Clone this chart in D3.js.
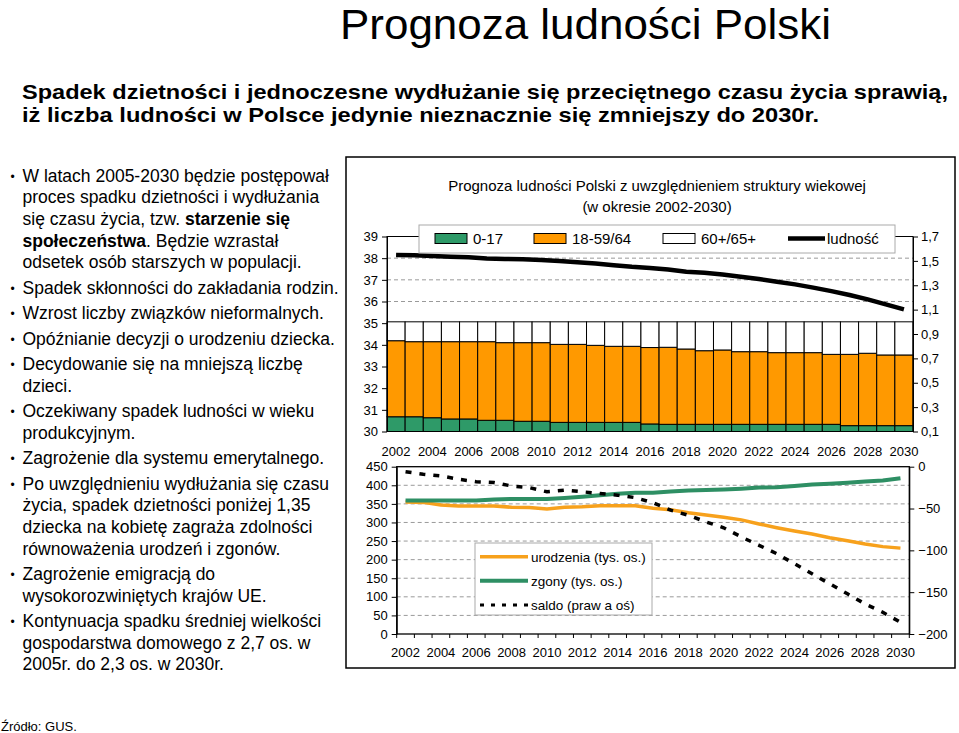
<!DOCTYPE html>
<html><head><meta charset="utf-8">
<script src="https://cdn.jsdelivr.net/npm/d3@7"></script>
<style>
html,body{margin:0;padding:0;background:#fff;}
svg{display:block;font-family:"Liberation Sans",Arial,sans-serif;}
</style></head>
<body><svg id="c" width="959" height="733"></svg>
<script>
// ---------- DATA ----------
const years = [2002,2003,2004,2005,2006,2007,2008,2009,2010,2011,2012,2013,2014,2015,2016,
               2017,2018,2019,2020,2021,2022,2023,2024,2025,2026,2027,2028,2029,2030];
// shares of age groups (stacked bars, right axis)
const share0_17  = [0.221,0.221,0.213,0.203,0.203,0.192,0.192,0.184,0.184,0.175,0.175,0.175,0.175,0.175,0.162,
                    0.159,0.159,0.159,0.159,0.159,0.159,0.159,0.159,0.159,0.159,0.148,0.148,0.148,0.148];
const share18_59 = [0.624,0.616,0.624,0.634,0.634,0.645,0.637,0.645,0.645,0.640,0.640,0.632,0.624,0.624,0.627,
                    0.632,0.618,0.604,0.610,0.596,0.596,0.588,0.588,0.588,0.574,0.585,0.594,0.580,0.580];
const share60    = [0.155,0.163,0.163,0.163,0.163,0.163,0.171,0.171,0.171,0.185,0.185,0.193,0.201,0.201,0.211,
                    0.209,0.223,0.237,0.231,0.245,0.245,0.253,0.253,0.253,0.267,0.267,0.258,0.272,0.272];
// population (mln, left axis)
const ludnosc = [38.15,38.13,38.10,38.07,38.04,37.99,37.96,37.95,37.92,37.87,37.81,37.75,37.67,37.60,37.55,
                 37.48,37.37,37.33,37.25,37.14,37.04,36.91,36.79,36.64,36.48,36.30,36.10,35.87,35.64];
// births, deaths (thousands, left axis), balance (right axis)
const urodzenia = [355,354,347,344,344,344,341,340,336,341,342,345,345,345,338,
                   334,326,320,314,307,296,286,277,269,259,251,242,235,231];
const zgony     = [359,359,359,359,359,362,363,363,363,366,369,373,377,380,380,
                   383,386,387,389,391,394,395,398,402,404,407,410,413,419];
const saldo     = [-6,-9,-11,-15,-18,-19,-23,-25,-30,-28,-30,-32,-34,-37,-43,
                   -52,-58,-66,-73,-84,-94,-104,-116,-128,-140,-152,-164,-174,-186];
const topLeftTicks  = [30,31,32,33,34,35,36,37,38,39];
const topRightTicks = [0.1,0.3,0.5,0.7,0.9,1.1,1.3,1.5,1.7];
const botLeftTicks  = [0,50,100,150,200,250,300,350,400,450];
const botRightTicks = [0,-50,-100,-150,-200];
const xLabelYears   = [2002,2004,2006,2008,2010,2012,2014,2016,2018,2020,2022,2024,2026,2028,2030];
const barKeys   = ["0-17","18-59/64","60+/65+"];
const barColors = ["#2E9A68","#FF9900","#FFFFFF"];
const lineNames = ["urodzenia (tys. os.)","zgony (tys. os.)","saldo (praw a oś)"];

const bullets = [
  [[["W latach 2005-2030 będzie postępował",0]],[["proces spadku dzietności i wydłużania",0]],
   [["się czasu życia, tzw. ",0],["starzenie się",1]],[["społeczeństwa",1],[". Będzie wzrastał",0]],
   [["odsetek osób starszych w populacji.",0]]],
  [[["Spadek skłonności do zakładania rodzin.",0]]],
  [[["Wzrost liczby związków nieformalnych.",0]]],
  [[["Opóźnianie decyzji o urodzeniu dziecka.",0]]],
  [[["Decydowanie się na mniejszą liczbę",0]],[["dzieci.",0]]],
  [[["Oczekiwany spadek ludności w wieku",0]],[["produkcyjnym.",0]]],
  [[["Zagrożenie dla systemu emerytalnego.",0]]],
  [[["Po uwzględnieniu wydłużania się czasu",0]],[["życia, spadek dzietności poniżej 1,35",0]],
   [["dziecka na kobietę zagraża zdolności",0]],[["równoważenia urodzeń i zgonów.",0]]],
  [[["Zagrożenie emigracją do",0]],[["wysokorozwiniętych krajów UE.",0]]],
  [[["Kontynuacja spadku średniej wielkości",0]],[["gospodarstwa domowego z 2,7 os. w",0]],
   [["2005r. do 2,3 os. w 2030r.",0]]]
];

// ---------- DRAW ----------
const svg = d3.select("#c");
svg.append("rect").attr("width",959).attr("height",733).attr("fill","#fff");

// headings
svg.append("text").attr("x",340).attr("y",39).attr("font-size",43)
   .attr("textLength",491).attr("lengthAdjust","spacingAndGlyphs")
   .text("Prognoza ludności Polski");
svg.append("text").attr("x",22).attr("y",98.5).attr("font-size",20.5).attr("font-weight","bold")
   .attr("textLength",926).attr("lengthAdjust","spacingAndGlyphs")
   .text("Spadek dzietności i jednoczesne wydłużanie się przeciętnego czasu życia sprawią,");
svg.append("text").attr("x",22).attr("y",121.5).attr("font-size",20.5).attr("font-weight","bold")
   .attr("textLength",797).attr("lengthAdjust","spacingAndGlyphs")
   .text("iż liczba ludności w Polsce jedynie nieznacznie się zmniejszy do 2030r.");

// bullets
const bg = svg.append("g").attr("font-size",17.5).attr("fill","#000");
let li = 0;
bullets.forEach((para,pi)=>{
  para.forEach((line,k)=>{
    const y = 181.7 + li*21.6 + pi*3.9;
    if(k===0) bg.append("text").attr("x",10.5).attr("y",y-1).attr("font-size",12).text("•");
    const t = bg.append("text").attr("x",22.5).attr("y",y);
    line.forEach(seg=>t.append("tspan").attr("font-weight",seg[1]?"bold":"normal").text(seg[0]));
    li++;
  });
});

svg.append("text").attr("x",1).attr("y",731).attr("font-size",13).text("Źródło: GUS.");

// outer frame
svg.append("rect").attr("x",346).attr("y",157).attr("width",609).attr("height",511)
   .attr("fill","none").attr("stroke","#000").attr("stroke-width",1.5);

// ===== TOP CHART =====
const T = {l:387,r:913,t:236.5,b:431.5};
const xT = d3.scaleBand().domain(years).range([T.l,T.r]).padding(0);
const yTL = d3.scaleLinear().domain([30,39]).range([T.b,T.t]);
const yTR = d3.scaleLinear().domain([0.1,1.7]).range([T.b,T.t]).clamp(true);
const topG = svg.append("g");

topG.append("text").attr("x",657).attr("y",191).attr("text-anchor","middle").attr("font-size",15)
   .text("Prognoza ludności Polski z uwzględnieniem struktury wiekowej");
topG.append("text").attr("x",657).attr("y",212).attr("text-anchor","middle").attr("font-size",15)
   .text("(w okresie 2002-2030)");

topG.selectAll(".gt").data(topLeftTicks.slice(1,-1)).join("line")
   .attr("x1",T.l).attr("x2",T.r).attr("y1",d=>yTL(d)).attr("y2",d=>yTL(d))
   .attr("stroke","#9a9a9a").attr("stroke-dasharray","4,3");

const rows = years.map((y,i)=>({year:y,"0-17":share0_17[i],"18-59/64":share18_59[i],"60+/65+":share60[i]}));
const stacked = d3.stack().keys(barKeys)(rows);
topG.selectAll(".ser").data(stacked).join("g").attr("fill",(d,i)=>barColors[i])
   .selectAll("rect").data(d=>d).join("rect")
   .attr("x",d=>xT(d.data.year)).attr("width",xT.bandwidth())
   .attr("y",d=>yTR(d[1])).attr("height",d=>yTR(d[0])-yTR(d[1]))
   .attr("stroke","#000").attr("stroke-width",1);

topG.append("rect").attr("x",T.l).attr("y",T.t).attr("width",T.r-T.l).attr("height",T.b-T.t)
   .attr("fill","none").attr("stroke","#000").attr("stroke-width",1);

const axL = topG.append("g").attr("transform",`translate(${T.l},0)`)
   .call(d3.axisLeft(yTL).tickValues(topLeftTicks).tickSize(5).tickSizeOuter(0).tickPadding(4).tickFormat(d3.format("d")));
const axR = topG.append("g").attr("transform",`translate(${T.r},0)`)
   .call(d3.axisRight(yTR).tickValues(topRightTicks).tickSize(5).tickSizeOuter(0).tickPadding(3)
   .tickFormat(d=>d.toFixed(1).replace(".",",")));
[axL,axR].forEach(a=>{a.selectAll("text").attr("font-size",13).attr("fill","#000");
  a.attr("font-family",null); a.selectAll("line,path").attr("stroke","#000");});

topG.selectAll(".xl").data(xLabelYears).join("text")
   .attr("x",d=>xT(d)+xT.bandwidth()/2).attr("y",455.5).attr("text-anchor","middle")
   .attr("font-size",13).text(d=>d);

topG.append("path").datum(ludnosc)
   .attr("d",d3.line().x((d,i)=>xT(years[i])+xT.bandwidth()/2).y(d=>yTL(d)))
   .attr("fill","none").attr("stroke","#000").attr("stroke-width",4.5);

// legend
const lg = topG.append("g");
lg.append("rect").attr("x",419).attr("y",225).attr("width",476).attr("height",28)
  .attr("fill","#fff").attr("stroke","#aaa");
const swX = [435,534,663];
barKeys.forEach((k,i)=>{
  lg.append("rect").attr("x",swX[i]).attr("y",233.5).attr("width",32).attr("height",10)
    .attr("fill",barColors[i]).attr("stroke","#000");
  lg.append("text").attr("x",swX[i]+38).attr("y",244).attr("font-size",15).text(k);
});
lg.append("line").attr("x1",788).attr("x2",825).attr("y1",238.5).attr("y2",238.5)
  .attr("stroke","#000").attr("stroke-width",4.5);
lg.append("text").attr("x",827).attr("y",244).attr("font-size",15).text("ludność");

// ===== BOTTOM CHART =====
const B = {l:396.7,r:909.3,t:466.7,b:634};
const xB = d3.scaleBand().domain(years).range([B.l,B.r]).padding(0);
const yBL = d3.scaleLinear().domain([0,450]).range([B.b,B.t]);
const yBR = d3.scaleLinear().domain([-200,0]).range([B.b,B.t]);
const bot = svg.append("g");

bot.selectAll(".gb").data(botLeftTicks.slice(1,-1)).join("line")
   .attr("x1",B.l).attr("x2",B.r).attr("y1",d=>yBL(d)).attr("y2",d=>yBL(d))
   .attr("stroke","#9a9a9a").attr("stroke-dasharray","4,3");
bot.append("rect").attr("x",B.l).attr("y",B.t).attr("width",B.r-B.l).attr("height",B.b-B.t)
   .attr("fill","none").attr("stroke","#000").attr("stroke-width",1.3);

const bL = bot.append("g").attr("transform",`translate(${B.l},0)`)
   .call(d3.axisLeft(yBL).tickValues(botLeftTicks).tickSize(5).tickSizeOuter(0).tickPadding(4));
const bR = bot.append("g").attr("transform",`translate(${B.r},0)`)
   .call(d3.axisRight(yBR).tickValues(botRightTicks).tickSize(5).tickSizeOuter(0).tickPadding(4));
// category boundary ticks
const bX = bot.append("g").attr("transform",`translate(0,${B.b})`);
bX.selectAll("line").data(years.concat(["end"])).join("line")
  .attr("x1",(d,i)=> i<years.length ? xB(d) : B.r).attr("x2",(d,i)=> i<years.length ? xB(d) : B.r)
  .attr("y1",0).attr("y2",4).attr("stroke","#000");
[bL,bR].forEach(a=>{a.selectAll("text").attr("font-size",13).attr("fill","#000");
  a.attr("font-family",null); a.selectAll("line,path").attr("stroke","#000");});

bot.selectAll(".xb").data(xLabelYears).join("text")
   .attr("x",d=>xB(d)+xB.bandwidth()/2).attr("y",656.5).attr("text-anchor","middle")
   .attr("font-size",13).text(d=>d);

const cx = i => xB(years[i])+xB.bandwidth()/2;
bot.append("path").datum(urodzenia).attr("d",d3.line().x((d,i)=>cx(i)).y(d=>yBL(d)))
   .attr("fill","none").attr("stroke","#F7A11C").attr("stroke-width",3.5);
bot.append("path").datum(zgony).attr("d",d3.line().x((d,i)=>cx(i)).y(d=>yBL(d)))
   .attr("fill","none").attr("stroke","#2E8F64").attr("stroke-width",4);
bot.append("path").datum(saldo).attr("d",d3.line().x((d,i)=>cx(i)).y(d=>yBR(d)))
   .attr("fill","none").attr("stroke","#000").attr("stroke-width",3.5).attr("stroke-dasharray","6,8");

const lb = bot.append("g");
lb.append("rect").attr("x",475).attr("y",543).attr("width",177).attr("height",72)
  .attr("fill","#fff").attr("stroke","#aaa");
const lstyles = [["#F7A11C",3.5,null],["#2E8F64",4,null],["#000",3,"4,7"]];
[556.7,580.7,605].forEach((y,i)=>{
  lb.append("line").attr("x1",480).attr("x2",528).attr("y1",y).attr("y2",y)
    .attr("stroke",lstyles[i][0]).attr("stroke-width",lstyles[i][1]).attr("stroke-dasharray",lstyles[i][2]);
  lb.append("text").attr("x",531).attr("y",y+5).attr("font-size",13.5).text(lineNames[i]);
});
</script></body></html>
